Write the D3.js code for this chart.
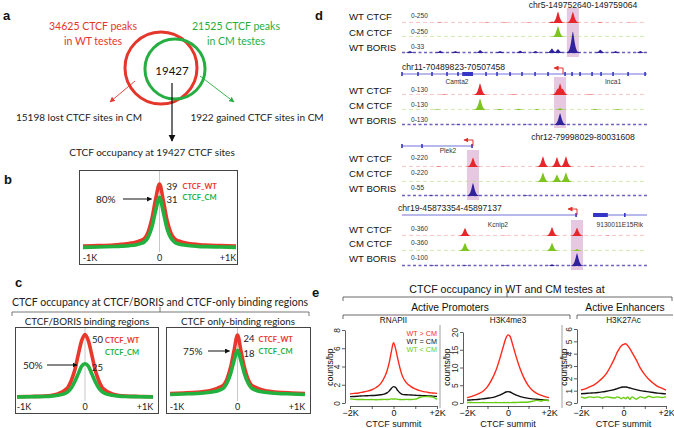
<!DOCTYPE html>
<html><head><meta charset="utf-8">
<script src="https://cdn.jsdelivr.net/npm/d3@7/dist/d3.min.js"></script>
<style>html,body{margin:0;padding:0;background:#fff;}svg{display:block;}</style>
</head><body>
<svg id="fig" width="674" height="428"></svg>
<script>
// ================= DATA =================
// panel a (Venn)
const vennCounts = [34625, 21525];            // WT, CM peaks
const vennShared = 19427;
const vennLost = 15198;
const vennGained = 1922;

// panels b, c : profiles around CTCF sites (bp)
const profPos = [-1000,-800,-600,-500,-400,-300,-250,-200,-150,-100,-50,0,50,100,150,200,250,300,400,500,600,800,1000];
const bWT = [1.8,2,2.4,2.8,3.3,4.2,5,6.2,10,18,30,39,29,17,9.5,6,4.8,4,3.2,2.7,2.3,2,1.8];
const bCM = [1.0,1.2,1.5,1.7,2.0,2.6,3.2,4.2,7,13,23,31,22,12,6.5,4,3,2.5,1.9,1.6,1.4,1.2,1.0];
const cBorisWT = [1,1.2,1.5,2,3.3,6,8.5,14,22,34,45,50,45,34,22,14,8.5,6,3.3,2,1.5,1.2,1];
const cBorisCM = [0.8,1,1.2,1.5,2.2,3.5,5,8,13,19,25,27,25,19,13,8,5,3.5,2.2,1.5,1.2,1,0.8];
const cOnlyWT = [1,1.2,1.5,1.8,2.2,3,3.6,4.5,7,11.5,18,24,18,11.5,7,4.5,3.6,3,2.2,1.8,1.5,1.2,1];
const cOnlyCM = [0.6,0.8,1,1.2,1.5,2,2.5,3.3,5.5,9,14,18,14,9,5.5,3.3,2.5,2,1.5,1.2,1,0.8,0.6];
const peakLabels = { b:[39,31], cBoris:[50,25], cOnly:[24,18] };
const pctLabels = { b:"80%", cBoris:"50%", cOnly:"75%" };
const profTicks = ["-1K","0","+1K"];

// panel d : genome browser tracks (offsets in bp from region start, signal)
const regionNames = ["chr5-149752640-149759064","chr11-70489823-70507458","chr12-79998029-80031608","chr19-45873354-45897137"];
const regionStart = [149752640, 70489823, 79998029, 45873354];
const regionEnd   = [149759064, 70507458, 80031608, 45897137];
const trackNames = ["WT CTCF","CM CTCF","WT BORIS"];
const trackRanges = [[250,250,33],[130,130,130],[220,220,55],[360,360,100]];
const wtCtcfPeaks = [
  [[3930,30],[4090,240],[4480,235],[1000,8],[2200,8],[2700,10],[3300,8],[5200,10],[6000,8]],
  [[5616,128],[11200,70],[11376,125],[11560,70],[3000,6],[8000,6],[13500,6]],
  [[9727,190],[19317,215],[21235,200],[22468,215],[5000,10],[14000,8],[26000,8]],
  [[6116,290],[14561,320],[16988,300],[10000,10],[20000,10]]
];
const cmCtcfPeaks = [
  [[4090,230],[4480,12]],
  [[5616,125],[11376,20],[7000,12],[8400,14],[9700,10],[13900,12],[15500,10],[2500,8]],
  [[19317,190],[21235,150],[22468,190]],
  [[6116,290],[14561,290],[16988,70]]
];
const borisPeaks = [
  [[210,3],[1000,3.5],[1400,3],[2050,4.5],[2570,3],[3100,3.5],[3500,3],[3930,7],[4090,6],[4480,33],[5200,5],[5600,3],[6250,3]],
  [[11376,128],[4000,5],[9000,4]],
  [[9727,55],[4000,3],[17000,3],[25000,3]],
  [[16988,100],[14561,12],[6116,6],[3000,5],[10000,5]]
];
const highlightSites = [4480, 11376, 9727, 16988];
const geneExons = [
  [],
  [0,1152,2160,3240,4032,4392,4608,4824,5040,6048,6840,7776,8640,9576,10512,11736,12240,12816,13680,14328,15192,16272,17496],
  [0,2740,9600],
  [16900,21631]
];
const geneSpans = [[], [[0,17635]], [[0,9727]], [[0,16988],[18545,23783]]];
const geneThick = [[], [[4392,5112]], [], [[18545,19980]]];
const geneTSS = [null, 11592, 9727, 16988];
const geneLabels = [[], [["Camta2",3960],["Inca1",15192]], [["Plek2",6302]], [["Kcnip2",9312],["9130011E15Rik",21146]]];

// panel e : aggregate profiles (counts/bp)
const ePos = [-2000,-1800,-1600,-1400,-1200,-1000,-800,-600,-400,-300,-200,-100,0,100,200,300,400,600,800,1000,1200,1400,1600,1800,2000];
const rnaWT = [1.0,1.05,1.1,1.2,1.3,1.45,1.7,2.1,2.9,3.5,4.4,5.6,6.6,5.9,4.8,3.8,3.0,2.2,1.8,1.55,1.35,1.25,1.15,1.1,1.05];
const rnaEQ = [0.7,0.72,0.75,0.78,0.8,0.82,0.85,0.9,1.0,1.1,1.3,1.6,1.8,1.7,1.35,1.1,0.95,0.9,0.88,0.85,0.82,0.8,0.78,0.75,0.72];
const rnaCM = [0.45,0.4,0.38,0.38,0.37,0.38,0.36,0.38,0.4,0.38,0.4,0.45,0.42,0.45,0.4,0.38,0.37,0.4,0.38,0.42,0.6,0.7,0.72,0.65,0.4];
const k4WT = [1.5,1.8,2.2,2.7,3.4,4.6,6.5,9,12.5,14.5,16.5,18.3,19.2,18.8,17,15,13,9.5,6.8,4.8,3.5,2.7,2.2,1.8,1.5];
const k4EQ = [0.8,0.88,0.95,1.05,1.2,1.35,1.5,1.8,2.2,2.5,2.8,3.1,3.2,3.1,2.8,2.5,2.2,1.8,1.5,1.3,1.15,1.05,0.95,0.85,0.75];
const k4CM = [0.12,0.12,0.1,0.1,0.12,0.1,0.1,0.12,0.1,0.1,0.12,0.1,0.12,0.1,0.12,0.15,0.15,0.2,0.2,0.3,0.5,0.75,0.55,0.85,0.6];
const k27WT = [1.05,1.15,1.3,1.45,1.7,2.0,2.4,3.0,3.7,4.1,4.4,4.65,4.75,4.8,4.65,4.4,4.1,3.5,2.8,2.3,1.9,1.6,1.35,1.2,1.05];
const k27EQ = [0.75,0.77,0.8,0.82,0.85,0.9,0.95,1.02,1.1,1.17,1.22,1.28,1.3,1.3,1.27,1.22,1.17,1.08,1.0,0.95,0.9,0.85,0.8,0.77,0.74];
const k27CM = [0.5,0.4,0.5,0.45,0.5,0.4,0.5,0.45,0.4,0.5,0.45,0.35,0.45,0.35,0.5,0.3,0.5,0.3,0.5,0.4,0.55,0.45,0.5,0.45,0.5];
const eTitles = ["RNAPII","H3K4me3","H3K27Ac"];
const eYTicks = [[0,2,4,6,8],[0,5,10,15,20],[0,1,2,3,4,5,6]];
const eXTicks = [-2000,-1000,0,1000,2000];
const eXLabels = ["\u22122K","","0","","+2K"];
const eLegend = ["WT > CM","WT = CM","WT < CM"];

// ================= DRAWING =================
const svg = d3.select("#fig");
const FA = "Lato, 'Open Sans', sans-serif";
const FB = "'Liberation Sans', Arial, Helvetica, sans-serif";
const RED = "#e5362b", GREEN = "#27ae42";
const defs = svg.append("defs");
function marker(id, color, size){
  defs.append("marker").attr("id", id).attr("viewBox","0 0 10 10").attr("refX",9).attr("refY",5)
    .attr("markerWidth", size).attr("markerHeight", size).attr("orient","auto")
    .append("path").attr("d","M0,0L10,5L0,10z").attr("fill", color);
}
marker("arR", RED, 6); marker("arG", GREEN, 6); marker("arK", "#111", 5); marker("arK2", "#111", 6); marker("arT","#e0302a",5);

function txt(x,y,s,opt={}){
  return svg.append("text").attr("x",x).attr("y",y).text(s)
    .attr("font-family", opt.f||FA).attr("font-size", opt.s||10)
    .attr("fill", opt.c||"#222").attr("text-anchor", opt.a||"start")
    .attr("font-weight", opt.w||"normal");
}

// panel letters
[["a",3,20],["b",4,184],["c",15,287],["d",315,20],["e",312,297]].forEach(d=>
  txt(d[1],d[2],d[0],{f:FB,s:13,w:"bold",c:"#111"}));

// ---- panel a ----
const rScale = d3.scalePow().exponent(0.38).domain([0, vennCounts[0]]).range([0, 36]);
svg.append("circle").attr("cx",161).attr("cy",68).attr("r", rScale(vennCounts[0]))
  .attr("fill","none").attr("stroke",RED).attr("stroke-width",3);
svg.append("circle").attr("cx",175).attr("cy",69).attr("r", rScale(vennCounts[1]))
  .attr("fill","none").attr("stroke",GREEN).attr("stroke-width",3);
txt(93,30,`${vennCounts[0]} CTCF peaks`,{a:"middle",c:RED,s:10.5});
txt(93,45,"in WT testes",{a:"middle",c:RED,s:10.5});
txt(236,30,`${vennCounts[1]} CTCF peaks`,{a:"middle",c:GREEN,s:10.5});
txt(236,45,"in CM testes",{a:"middle",c:GREEN,s:10.5});
txt(172,75,String(vennShared),{a:"middle",c:"#111",s:11.5});
svg.append("line").attr("x1",135).attr("y1",81).attr("x2",110).attr("y2",102).attr("stroke",RED).attr("stroke-width",0.9).attr("marker-end","url(#arR)");
svg.append("line").attr("x1",200).attr("y1",76).attr("x2",234).attr("y2",102).attr("stroke",GREEN).attr("stroke-width",0.9).attr("marker-end","url(#arG)");
svg.append("line").attr("x1",172).attr("y1",83).attr("x2",172).attr("y2",141).attr("stroke","#111").attr("stroke-width",1.2).attr("marker-end","url(#arK2)");
txt(79,121,`${vennLost} lost CTCF sites in CM`,{a:"middle",s:10});
txt(257,121,`${vennGained} gained CTCF sites in CM`,{a:"middle",s:10});
txt(152,156,`CTCF occupancy at ${vennShared} CTCF sites`,{a:"middle",s:10});

// ---- profile helper (b, c) ----
function profile(box, xr, yr, ymax, wt, cm, labels, pct, lbl){
  svg.append("rect").attr("x",box[0]+0.5).attr("y",box[1]+0.5).attr("width",box[2]).attr("height",box[3])
    .attr("fill","none").attr("stroke","#444").attr("stroke-width",1);
  const x = d3.scaleLinear().domain([-1000,1000]).range(xr);
  const y = d3.scaleLinear().domain([0,ymax]).range(yr);
  svg.append("line").attr("x1",x(0)).attr("x2",x(0)).attr("y1",box[1]+1).attr("y2",box[1]+box[3]-12)
    .attr("stroke","#c8c8c8").attr("stroke-width",1);
  const line = d3.line().x((d,i)=>x(profPos[i])).y(d=>y(d)).curve(d3.curveMonotoneX);
  svg.append("path").attr("d",line(wt)).attr("fill","none").attr("stroke","#e8382c").attr("stroke-width",3.6).attr("stroke-linejoin","round");
  svg.append("path").attr("d",line(cm)).attr("fill","none").attr("stroke","#22b03f").attr("stroke-width",3.6).attr("stroke-linejoin","round");
  const by = box[1]+box[3]-3.5;
  txt(x(-1000)+7, by, profTicks[0], {a:"middle",s:9});
  txt(x(0), by, profTicks[1], {a:"middle",s:9});
  txt(x(1000)-8, by, profTicks[2], {a:"middle",s:9});
  // value labels
  txt(x(0)+lbl.dx, y(labels[0])+lbl.o1, String(labels[0]), {s:9.5});
  txt(x(0)+lbl.dx, y(labels[1])+lbl.o2, String(labels[1]), {s:9.5});
  txt(x(0)+lbl.dl, lbl.ly1, "CTCF_WT", {s:7.5,w:"bold",c:"#e8382c"});
  txt(x(0)+lbl.dl, lbl.ly2, "CTCF_CM", {s:7.5,w:"bold",c:"#22b03f"});
  // percent + arrow
  txt(lbl.px, lbl.py, pct, {s:10});
  svg.append("line").attr("x1",lbl.ax1).attr("x2",x(0)-8).attr("y1",lbl.ay).attr("y2",lbl.ay)
    .attr("stroke","#111").attr("stroke-width",1).attr("marker-end","url(#arK)");
}
// panel b
profile([79,170,158,94],[83,236],[249,184],39,bWT,bCM,peakLabels.b,pctLabels.b,
  {dx:7,o1:6,o2:6,dl:23,ly1:189,ly2:200,px:96,py:203,ax1:123,ay:199});
// panel c
txt(160,306,"CTCF occupancy at CTCF/BORIS and CTCF-only binding regions",{a:"middle",s:10.5});
svg.append("path").attr("d","M12,316V312H309V316M160,312V307").attr("fill","none").attr("stroke","#555").attr("stroke-width",0.8);
txt(87,325,"CTCF/BORIS binding regions",{a:"middle",s:9.8});
txt(238,325,"CTCF only-binding regions",{a:"middle",s:9.8});
profile([15,327,143,86],[17,153],[398,332],52,cBorisWT,cBorisCM,peakLabels.cBoris,pctLabels.cBoris,
  {dx:7,o1:8,o2:5,dl:20,ly1:343,ly2:355,px:23,py:369,ax1:47,ay:365});
profile([166,327,144,86],[170,305],[396,335],24,cOnlyWT,cOnlyCM,peakLabels.cOnly,pctLabels.cOnly,
  {dx:6,o1:7,o2:7,dl:21,ly1:342,ly2:354,px:183,py:355,ax1:208,ay:351});

// ---- panel d ----
const dX = [402, 647];
const trackColors = ["#e6262b","#7dc41f","#30229a"];
const trackNoise = ["#f2a0a0","#b5dc7c","#4a3db0"];
const blockLayout = [
  {title:[583,8,"middle"], gene:null, lab:[16,32,47], base:[23,37,53], hpx:[12,12,22], hl:[8,57]},
  {title:[402,70,"start"], gene:74, glab:84, lab:[90,105,120], base:[95,110,125], hpx:[12,12,12], hl:[77,128]},
  {title:[583,140,"middle"], gene:146, glab:153, lab:[158,173,188], base:[167,182,196], hpx:[11,11,13], hl:[150,200]},
  {title:[398,211,"start"], gene:215, glab:227, lab:[229,243,258], base:[236,251,266], hpx:[10,10,13], hl:[220,270]}
];
regionNames.forEach((nm, bi)=>{
  const L = blockLayout[bi];
  const len = regionEnd[bi]-regionStart[bi];
  const x = d3.scaleLinear().domain([0,len]).range(dX);
  // highlight
  svg.append("rect").attr("x", x(highlightSites[bi])-6).attr("width",12)
    .attr("y", L.hl[0]).attr("height", L.hl[1]-L.hl[0]).attr("fill","#e6c8e0");
  txt(L.title[0], L.title[1], nm, {f:FB,s:8.6,a:L.title[2],c:"#222"});
  // gene track
  if (L.gene!==null){
    geneSpans[bi].forEach(s=> svg.append("line").attr("x1",x(s[0])).attr("x2",x(s[1]))
      .attr("y1",L.gene).attr("y2",L.gene).attr("stroke","#3535c8").attr("stroke-width",0.7));
    geneExons[bi].forEach(e=> svg.append("rect").attr("x",x(e)-0.8).attr("width",1.6)
      .attr("y",L.gene-2).attr("height",4).attr("fill","#3535c8"));
    geneThick[bi].forEach(t=> svg.append("rect").attr("x",x(t[0])).attr("width",x(t[1])-x(t[0]))
      .attr("y",L.gene-2).attr("height",4).attr("fill","#3535c8"));
    geneLabels[bi].forEach(g=> txt(x(g[1]), L.glab, g[0], {f:FB,s:6.6,a:"middle",c:"#333"}));
    if (geneTSS[bi]!==null){
      const tx = x(geneTSS[bi]);
      svg.append("path").attr("d",`M${tx},${L.gene}V${L.gene-6}H${tx-9}`).attr("fill","none")
        .attr("stroke","#e0302a").attr("stroke-width",1).attr("marker-end","url(#arT)");
    }
  }
  const peaksets = [wtCtcfPeaks[bi], cmCtcfPeaks[bi], borisPeaks[bi]];
  peaksets.forEach((pk, ti)=>{
    const base = L.base[ti];
    const ys = d3.scaleLinear().domain([0, trackRanges[bi][ti]]).range([0, L.hpx[ti]]);
    txt(349, L.lab[ti]+3.5, trackNames[ti], {f:FB,s:9.6,c:"#111"});
    txt(411, L.lab[ti]+2, "0-"+trackRanges[bi][ti], {f:FB,s:6.6,c:"#333"});
    // baseline noise
    svg.append("line").attr("x1",dX[0]).attr("x2",dX[1]).attr("y1",base-0.6).attr("y2",base-0.6)
      .attr("stroke",trackNoise[ti]).attr("stroke-width", ti===2?1.5:1)
      .attr("stroke-dasharray", ti===2?"3,2.5":"4,3").attr("opacity",ti===2?0.8:0.6);
    // signal area
    const pts = d3.range(dX[0], dX[1]+0.01, 0.5).map(px=>{
      let v = 0;
      pk.forEach(p=>{ const dx = Math.abs(px - x(p[0])); v = Math.max(v, ys(p[1])*Math.exp(-Math.pow(dx/2.3,1.4))); });
      return [px, v];
    });
    svg.append("path").datum(pts)
      .attr("d", d3.area().x(d=>d[0]).y0(base).y1(d=>base-d[1]))
      .attr("fill", trackColors[ti]);
  });
});

// ---- panel e ----
txt(507,293,"CTCF occupancy in WT and CM testes at",{f:FB,s:10.6,a:"middle",c:"#111"});
svg.append("path").attr("d","M343,301V297H672V301M507,297V292").attr("fill","none").attr("stroke","#444").attr("stroke-width",0.8);
txt(450,311,"Active Promoters",{f:FB,s:10.2,a:"middle",c:"#111"});
txt(625,311,"Active Enhancers",{f:FB,s:10.2,a:"middle",c:"#111"});
svg.append("path").attr("d","M343,319V315H570V319M577,319V315H673").attr("fill","none").attr("stroke","#444").attr("stroke-width",0.8);

const eSeries = [[rnaWT,rnaEQ,rnaCM],[k4WT,k4EQ,k4CM],[k27WT,k27EQ,k27CM]];
const ePanels = [
  {ax:345, xr:[350,437], right:440, ylab:333, ymax:8, yTop:330},
  {ax:463, xr:[467,549], right:562, ylab:450, ymax:20, yTop:332},
  {ax:577, xr:[581,666], right:null, ylab:567, ymax:6, yTop:329}
];
const eColors = ["#ff2a1a","#111111","#66cc11"];
ePanels.forEach((P, pi)=>{
  const x = d3.scaleLinear().domain([-2000,2000]).range(P.xr);
  const y = d3.scaleLinear().domain([0,P.ymax]).range([403, P.yTop]);
  const g = svg.append("g").attr("font-family",FB);
  // y axis
  const ya = g.append("g").attr("transform",`translate(${P.ax},0)`)
    .call(d3.axisLeft(y).tickValues(eYTicks[pi]).tickSize(3).tickSizeOuter(0).tickFormat(d3.format("d")));
  ya.select(".domain").attr("stroke","#333").attr("stroke-width",0.8);
  ya.selectAll(".tick line").attr("stroke","#333").attr("stroke-width",0.8);
  ya.selectAll(".tick text").attr("transform","rotate(-90)").attr("x",0).attr("y",-5).attr("dy",0)
    .attr("text-anchor","middle").attr("font-size",8.4).attr("fill","#222").attr("font-family",FB);
  // x axis
  const xa = g.append("g").attr("transform","translate(0,406)")
    .call(d3.axisBottom(x).tickValues(eXTicks).tickSize(3).tickSizeOuter(0).tickFormat((d,i)=>eXLabels[i]));
  xa.select(".domain").attr("stroke","#333").attr("stroke-width",0.8);
  xa.selectAll(".tick line").attr("stroke","#333").attr("stroke-width",0.8);
  xa.selectAll(".tick text").attr("y",4).attr("dy","0.71em").attr("font-size",9).attr("fill","#111").attr("font-family",FB);
  if (P.right) g.append("line").attr("x1",P.right).attr("x2",P.right).attr("y1",325).attr("y2",408).attr("stroke","#888").attr("stroke-width",0.8);
  txt((P.xr[0]+P.xr[1])/2, 323, eTitles[pi], {f:FB,s:8.2,a:"middle",c:"#111"});
  txt((P.xr[0]+P.xr[1])/2, 427, "CTCF summit", {f:FB,s:9,a:"middle",c:"#111"});
  svg.append("text").attr("transform",`translate(${P.ylab},367) rotate(-90)`).attr("text-anchor","middle")
    .attr("font-family",FB).attr("font-size",8.6).attr("fill","#111").text("counts/bp");
  const line = d3.line().x((d,i)=>x(ePos[i])).y(d=>y(d)).curve(d3.curveMonotoneX);
  [1,2,0].forEach(si=>{
    g.append("path").attr("d",line(eSeries[pi][si])).attr("fill","none").attr("stroke",eColors[si]).attr("stroke-width",1.4);
  });
});
eLegend.forEach((s,i)=> txt(437, 336+i*8.2, s, {f:FB,s:7.2,a:"end",c:eColors[i]}));
</script>
</body></html>
